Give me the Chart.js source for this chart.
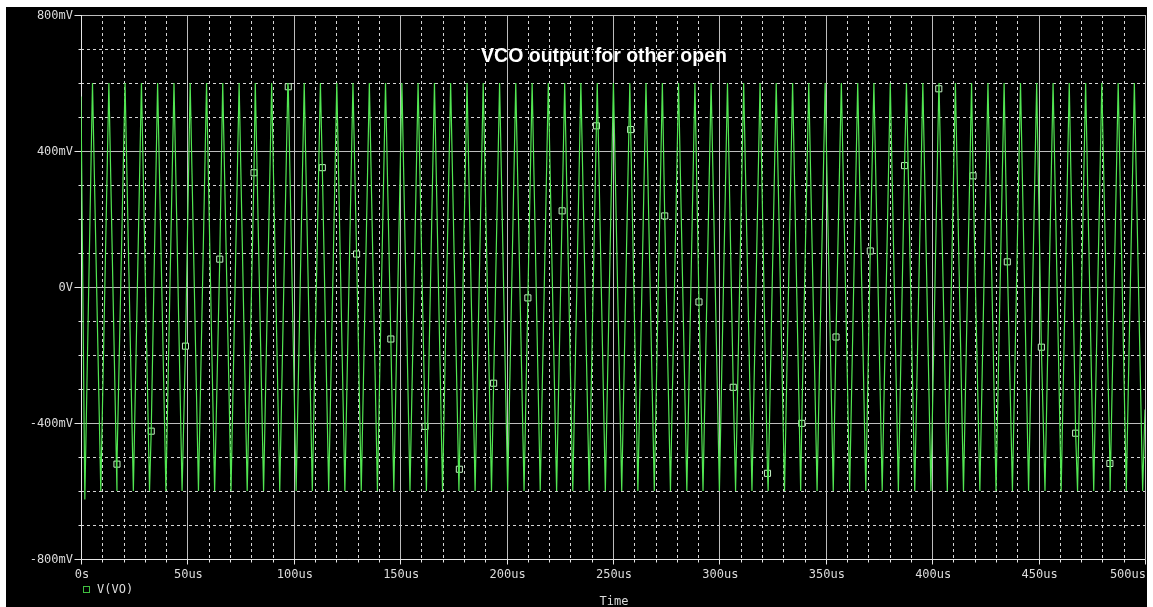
<!DOCTYPE html>
<html>
<head>
<meta charset="utf-8">
<title>VCO output for other open</title>
<script src="https://cdn.jsdelivr.net/npm/chart.js@4/dist/chart.umd.min.js"></script>
<style>
  html, body { margin: 0; padding: 0; background: #ffffff; }
  #wrap { width: 1153px; height: 607px; }
</style>
</head>
<body>
<div id="wrap"><canvas id="plot" width="1153" height="607"></canvas></div>
<script>
// ---- transient result V(VO), time in microseconds, voltage in millivolts ----
const peakTimes = [
  5.4, 13.1, 20.7, 28.4, 36.0, 43.7, 51.3, 59.0, 66.6, 74.3,
  81.9, 89.6, 97.2, 104.9, 112.5, 120.2, 127.8, 135.5, 143.1, 150.8,
  158.4, 166.1, 173.7, 181.4, 189.0, 196.7, 204.3, 212.0, 219.6, 227.3,
  234.9, 242.6, 250.2, 257.9, 265.5, 273.2, 280.8, 288.5, 296.1, 303.8,
  311.4, 319.1, 326.7, 334.4, 342.0, 349.7, 357.3, 365.0, 372.6, 380.3,
  387.9, 395.6, 403.2, 410.9, 418.5, 426.2, 433.8, 441.5, 449.1, 456.8,
  464.4, 472.1, 479.7, 487.4, 495.0
];
const peakLevels = [
  600, 600, 600, 600, 600, 600, 600, 600, 600, 600,
  600, 600, 600, 600, 600, 600, 600, 600, 600, 600,
  600, 600, 600, 600, 600, 600, 600, 600, 600, 600,
  600, 600, 600, 600, 600, 600, 600, 600, 600, 600,
  600, 600, 600, 600, 600, 600, 600, 600, 600, 600,
  600, 600, 600, 600, 600, 600, 600, 600, 600, 600,
  600, 600, 600, 600, 600
];
const troughTimes = [
  1.8, 9.3, 16.9, 24.6, 32.2, 39.9, 47.5, 55.2, 62.8, 70.5,
  78.1, 85.8, 93.4, 101.1, 108.7, 116.4, 124.0, 131.7, 139.3, 147.0,
  154.6, 162.3, 169.9, 177.6, 185.2, 192.9, 200.5, 208.2, 215.8, 223.5,
  231.1, 238.8, 246.4, 254.1, 261.7, 269.4, 277.0, 284.7, 292.3, 300.0,
  307.6, 315.3, 322.9, 330.6, 338.2, 345.9, 353.5, 361.2, 368.8, 376.5,
  384.1, 391.8, 399.4, 407.1, 414.7, 422.4, 430.0, 437.7, 445.3, 453.0,
  460.6, 468.3, 475.9, 483.6, 491.2, 498.9
];
const troughLevels = [
  -625, -600, -600, -600, -600, -600, -600, -600, -600, -600,
  -600, -600, -600, -600, -600, -600, -600, -600, -600, -600,
  -600, -600, -600, -600, -600, -600, -600, -600, -600, -600,
  -600, -600, -600, -600, -600, -600, -600, -600, -600, -600,
  -600, -600, -600, -600, -600, -600, -600, -600, -600, -600,
  -600, -600, -600, -600, -600, -600, -600, -600, -600, -600,
  -600, -600, -600, -600, -600, -600
];
// first and last samples of the run
const edgeTimes = [0, 500];
const edgeLevels = [560, -360];

// trace symbols placed along V(VO)
const symbolTimes = [
  16.9, 33.0, 49.1, 65.2, 81.3, 97.4, 113.4, 129.5, 145.6, 161.7,
  177.8, 193.9, 210.0, 226.1, 242.2, 258.3, 274.3, 290.4, 306.5, 322.6,
  338.7, 354.8, 370.9, 387.0, 403.1, 419.2, 435.3, 451.3, 467.4, 483.5
];
const symbolLevels = [
  -521, -424, -174, 82, 336, 589, 351, 97, -153, -410,
  -536, -283, -32, 224, 474, 463, 209, -44, -295, -548,
  -401, -147, 106, 357, 583, 327, 74, -177, -430, -519
];

// axis ticks
const timeTicks = [0, 50, 100, 150, 200, 250, 300, 350, 400, 450, 500];
const timeTickLabels = ['0s', '50us', '100us', '150us', '200us', '250us', '300us', '350us', '400us', '450us', '500us'];
const voltTicks = [800, 400, 0, -400, -800];
const voltTickLabels = ['800mV', '400mV', '0V', '-400mV', '-800mV'];
const timeMinorStep = 10;
const voltMinorStep = 100;

const plotTitle = 'VCO output for other open';
const traceName = 'V(VO)';
const axisName = 'Time';

// ---- build the point lists ----
const toPoints = (ts, vs) => ts.map((t, i) => ({ x: t, y: vs[i] }));
const tracePoints = [
  ...toPoints(edgeTimes, edgeLevels),
  ...toPoints(peakTimes, peakLevels),
  ...toPoints(troughTimes, troughLevels),
  ...toPoints(symbolTimes, symbolLevels)
].sort((a, b) => a.x - b.x);
const symbolPoints = toPoints(symbolTimes, symbolLevels);

const TRACE = '#52e652';
const SYMBOL = '#c4f2c4';
const TEXT = '#dcdcdc';
const MONO = '12px "DejaVu Sans Mono", "Liberation Mono", monospace';

// ---- probe-window style drawing: frame, grid, labels ----
const probeWindow = {
  id: 'probeWindow',
  beforeDraw(chart) {
    const { ctx, width, height } = chart;
    ctx.save();
    ctx.fillStyle = '#ffffff';
    ctx.fillRect(0, 0, width, height);
    ctx.fillStyle = '#000000';
    ctx.fillRect(6, 7, 1141, 600);
    ctx.restore();
  },
  beforeDatasetsDraw(chart) {
    const { ctx, chartArea: a, scales: { x, y } } = chart;
    const px = v => Math.round(x.getPixelForValue(v)) + 0.5;
    const py = v => Math.round(y.getPixelForValue(v)) + 0.5;
    ctx.save();
    ctx.lineWidth = 1;

    // dotted minor grid
    ctx.strokeStyle = '#d4d4d4';
    ctx.setLineDash([3, 3]);
    ctx.beginPath();
    for (let t = x.min; t <= x.max; t += timeMinorStep) {
      if (timeTicks.includes(t)) continue;
      ctx.moveTo(px(t), a.top); ctx.lineTo(px(t), a.bottom);
    }
    for (let v = y.min; v <= y.max; v += voltMinorStep) {
      if (voltTicks.includes(v)) continue;
      ctx.moveTo(a.left, py(v)); ctx.lineTo(a.right, py(v));
    }
    ctx.stroke();

    // solid major grid
    ctx.setLineDash([]);
    ctx.strokeStyle = '#bdbdbd';
    ctx.beginPath();
    timeTicks.forEach(t => { ctx.moveTo(px(t), a.top); ctx.lineTo(px(t), a.bottom); });
    voltTicks.forEach(v => { ctx.moveTo(a.left, py(v)); ctx.lineTo(a.right, py(v)); });
    ctx.stroke();

    // axes and tick marks
    ctx.strokeStyle = '#e6e6e6';
    ctx.beginPath();
    ctx.moveTo(px(x.min), a.top); ctx.lineTo(px(x.min), py(y.min));
    ctx.lineTo(px(x.max), py(y.min));
    for (let t = x.min; t <= x.max; t += timeMinorStep) {
      const len = timeTicks.includes(t) ? 5 : 3;
      ctx.moveTo(px(t), py(y.min)); ctx.lineTo(px(t), py(y.min) + len);
    }
    for (let v = y.min; v <= y.max; v += voltMinorStep) {
      const len = voltTicks.includes(v) ? 7 : 3;
      ctx.moveTo(px(x.min), py(v)); ctx.lineTo(px(x.min) - len, py(v));
    }
    ctx.stroke();
    ctx.restore();
  },
  afterDatasetsDraw(chart) {
    const { ctx, chartArea: a, scales: { x, y } } = chart;
    ctx.save();
    ctx.fillStyle = TEXT;
    ctx.font = MONO;
    ctx.textBaseline = 'middle';

    // voltage labels
    ctx.textAlign = 'right';
    voltTicks.forEach((v, i) => ctx.fillText(voltTickLabels[i], x.getPixelForValue(x.min) - 8, y.getPixelForValue(v) + 1));

    // time labels (last one kept inside the window)
    timeTicks.forEach((t, i) => {
      const last = i === timeTicks.length - 1;
      ctx.textAlign = last ? 'right' : 'center';
      ctx.fillText(timeTickLabels[i], x.getPixelForValue(t) + 1, a.bottom + 16);
    });

    // axis name
    ctx.textAlign = 'center';
    ctx.fillText(axisName, (a.left + a.right) / 2 + 1, 602);

    // legend entry
    ctx.strokeStyle = '#3fbf3f';
    ctx.lineWidth = 1;
    ctx.strokeRect(83.5, 586.5, 6, 6);
    ctx.textAlign = 'left';
    ctx.fillText(traceName, 97, 590);

    // plot title
    ctx.fillStyle = '#ffffff';
    ctx.font = 'bold 19.5px "Liberation Sans", Arial, sans-serif';
    ctx.textAlign = 'center';
    ctx.textBaseline = 'alphabetic';
    ctx.fillText(plotTitle, 604, 62);
    ctx.restore();
  }
};

new Chart(document.getElementById('plot'), {
  type: 'line',
  data: {
    datasets: [
      {
        label: traceName,
        data: tracePoints,
        borderColor: TRACE,
        borderWidth: 1.2,
        pointRadius: 0,
        tension: 0,
        fill: false
      },
      {
        label: traceName + ' symbols',
        data: symbolPoints,
        showLine: false,
        pointStyle: 'rect',
        pointRadius: 4.3,
        pointBorderWidth: 1,
        pointBorderColor: SYMBOL,
        pointBackgroundColor: '#000000'
      }
    ]
  },
  options: {
    responsive: false,
    animation: false,
    devicePixelRatio: 1,
    parsing: false,
    layout: { padding: { left: 81, top: 15, right: 8, bottom: 48 } },
    plugins: { legend: { display: false }, title: { display: false }, tooltip: { enabled: false } },
    scales: {
      x: { type: 'linear', min: 0, max: 500, display: false },
      y: { type: 'linear', min: -800, max: 800, display: false }
    }
  },
  plugins: [probeWindow]
});
</script>
</body>
</html>
